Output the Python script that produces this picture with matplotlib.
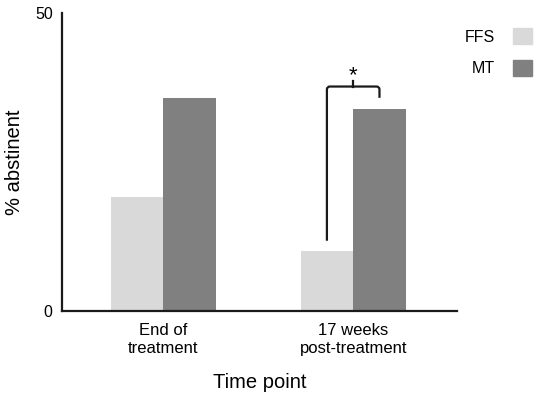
import numpy as np
import matplotlib.pyplot as plt
from matplotlib.patches import Patch, PathPatch
from matplotlib.path import Path

plt.rcParams['font.family'] = ['Liberation Sans', 'DejaVu Sans']

time_points = ["End of\ntreatment", "17 weeks\npost-treatment"]
groups = ["FFS", "MT"]
ffs_abstinent = [19.1, 10.0]
mt_abstinent = [35.8, 33.9]
colors = {"FFS": "#d9d9d9", "MT": "#808080"}

fig = plt.figure(figsize=(5.45, 3.93), dpi=100)
ax = fig.add_axes([61.7 / 545, 1 - 311 / 393, (457 - 61.7) / 545, (311 - 13.3) / 393])

x = np.arange(len(time_points))
w = 0.277
ax.bar(x - w / 2, ffs_abstinent, w, color=colors["FFS"], label="FFS")
ax.bar(x + w / 2, mt_abstinent, w, color=colors["MT"], label="MT")

ax.set_xlim(-0.536, 1.547)
ax.set_ylim(0, 50)
ax.set_yticks([0, 50])
ax.set_xticks(x)
ax.set_xticklabels(time_points, fontsize=12, linespacing=1.3)
ax.tick_params(axis='y', length=0, pad=6.5, labelsize=11.5)
ax.tick_params(axis='x', length=0, pad=8.5)

for s in ['top', 'right']:
    ax.spines[s].set_visible(False)
for s in ['left', 'bottom']:
    ax.spines[s].set_linewidth(1.6)
    ax.spines[s].set_color('#1a1a1a')

ax.set_ylabel("% abstinent", fontsize=14.5, labelpad=8)
ax.set_xlabel("Time point", fontsize=14.5, labelpad=12)

# significance bracket over 17 weeks
xl, xr = x[1] - w / 2, x[1] + w / 2
y_low, y_top, y_right = 11.8, 37.7, 35.8
rx, ry = 0.016, 0.5
verts = [(xl, y_low), (xl, y_top - ry), (xl, y_top), (xl + rx, y_top),
         (xr - rx, y_top), (xr, y_top), (xr, y_top - ry), (xr, y_right)]
codes = [Path.MOVETO, Path.LINETO, Path.CURVE3, Path.CURVE3,
         Path.LINETO, Path.CURVE3, Path.CURVE3, Path.LINETO]
ax.add_patch(PathPatch(Path(verts, codes), fill=False, lw=1.6, color='#1a1a1a'))
ax.plot([x[1], x[1]], [y_top, 38.6], color='#1a1a1a', lw=1.6)
ax.text(x[1], 39.6, "*", ha='center', va='center', fontsize=16)

handles = [Patch(color=colors[g]) for g in groups]
fig.legend(handles, groups, loc='upper left', bbox_to_anchor=(465 / 545, 1 - 28 / 393),
           frameon=False, markerfirst=False, fontsize=11.5,
           handlelength=1.2, handleheight=1.2, handletextpad=1.1, labelspacing=0.95,
           borderpad=0, borderaxespad=0)

fig.savefig("out.png", dpi=100)
